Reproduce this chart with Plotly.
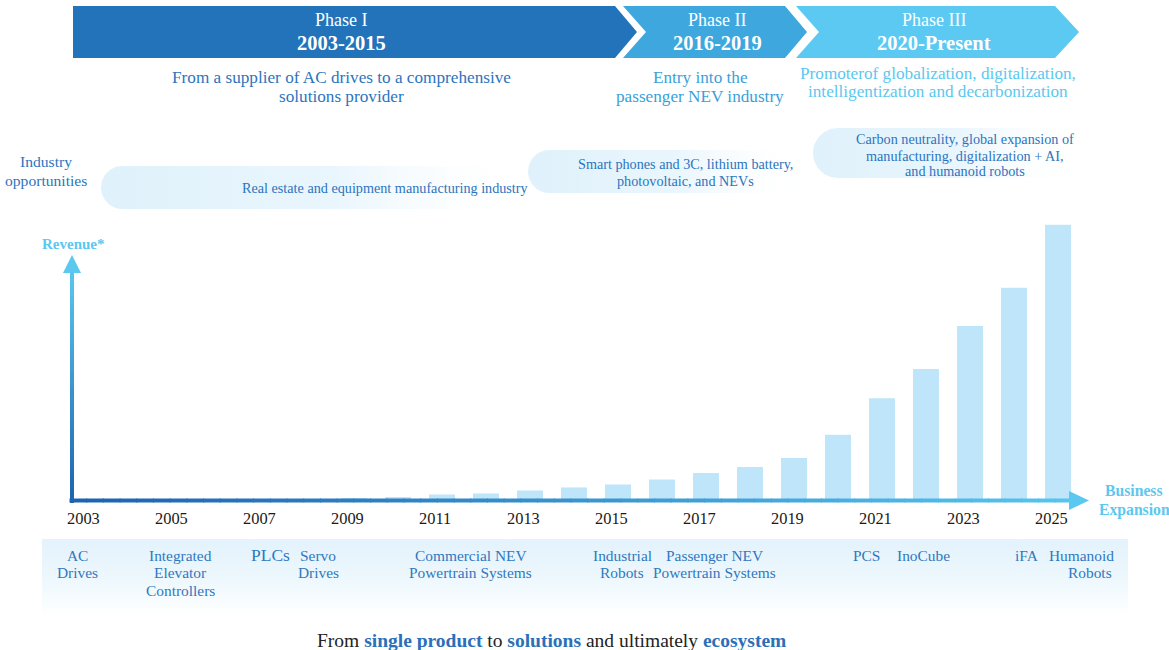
import numpy as np
import plotly.graph_objects as go

# ---------------- data ----------------
years = list(range(2003, 2026))
revenue = [0.02, 0.04, 0.06, 0.08, 0.10, 0.13, 0.27, 0.52, 0.96, 1.14, 1.66, 2.19,
           2.71, 3.58, 4.72, 5.77, 7.34, 11.4, 17.8, 22.9, 30.4, 37.1, 48.1]
tick_years = [2003, 2005, 2007, 2009, 2011, 2013, 2015, 2017, 2019, 2021, 2023, 2025]
tick_labels = [str(y) for y in tick_years]

phase_titles = ["Phase I", "Phase II", "Phase III"]
phase_periods = ["2003-2015", "2016-2019", "2020-Present"]

# ---------------- layout constants ----------------
W, H = 1169, 650
LAST_YEAR_PX = 1058
PX_PER_YEAR = 44
PX_PER_UNIT = 5.72
BASE_PX = 500
FONT = "Liberation Serif"

xr = [2025 - LAST_YEAR_PX / PX_PER_YEAR, 2025 + (W - LAST_YEAR_PX) / PX_PER_YEAR]
yr = [-(H - BASE_PX) / PX_PER_UNIT, BASE_PX / PX_PER_UNIT]

fig = go.Figure()

# bars
fig.add_trace(go.Bar(x=years, y=revenue, width=0.59,
                     marker=dict(color="#bee5f9", line=dict(width=0)),
                     hoverinfo="skip", showlegend=False))


# ---------------- decorations (pixel axes x2/y2) ----------------
def band(x0, x1, y0, y1, c0):
    r = (y1 - y0) / 2
    cx, cy = x0 + r, y0 + r
    t = np.linspace(-np.pi / 2, np.pi / 2, 40)
    xs = list(cx - r * np.cos(t)) + [x1, x1, cx]
    ys = list(cy + r * np.sin(t)) + [y1, y0, y0]
    fig.add_trace(go.Scatter(
        x=xs, y=ys, xaxis="x2", yaxis="y2", mode="lines", fill="toself",
        line=dict(width=0, color="rgba(0,0,0,0)"),
        fillgradient=dict(type="horizontal",
                          colorscale=[[0, c0], [0.55, "#eaf6fd"], [1, "rgba(255,255,255,0)"]]),
        hoverinfo="skip", showlegend=False))


band(101, 532, 166, 209, "#dff1fb")
band(528, 802, 150, 193, "#dff1fb")
band(813, 1082, 128, 178, "#dff1fb")

# bottom product band
fig.add_trace(go.Scatter(
    x=[42, 1128, 1128, 42, 42], y=[539, 539, 616, 616, 539], xaxis="x2", yaxis="y2",
    mode="lines", fill="toself", line=dict(width=0, color="rgba(0,0,0,0)"),
    fillgradient=dict(type="vertical", start=539, stop=616,
                      colorscale=[[0, "#e3f2fc"], [0.55, "#eef8fd"], [1, "#ffffff"]]),
    hoverinfo="skip", showlegend=False))

shapes = []
# chevrons
chev = [
    ("M73,6 L615,6 L637,32 L615,58 L73,58 Z", "#2373bb"),
    ("M623,6 L785,6 L807,32 L785,58 L623,58 L646,32 Z", "#3ea7de"),
    ("M796,6 L1055,6 L1079,32 L1055,58 L796,58 L819,32 Z", "#5bc9f1"),
]
for p, c in chev:
    shapes.append(dict(type="path", path=p, xref="x2", yref="y2",
                       fillcolor=c, line=dict(width=0), layer="above"))


def lerp(c0, c1, f):
    a = [int(c0[i:i + 2], 16) for i in (1, 3, 5)]
    b = [int(c1[i:i + 2], 16) for i in (1, 3, 5)]
    return "rgb(%d,%d,%d)" % tuple(round(a[k] + (b[k] - a[k]) * f) for k in range(3))


N = 60
# x axis gradient line
xa0, xa1 = 70, 1072
for i in range(N):
    f0, f1 = i / N, (i + 1) / N
    shapes.append(dict(type="line", xref="x2", yref="y2",
                       x0=xa0 + (xa1 - xa0) * f0 - 0.5, x1=xa0 + (xa1 - xa0) * f1 + 0.5,
                       y0=500.5, y1=500.5, layer="above",
                       line=dict(color=lerp("#1d62ad", "#57c4ef", (f0 + f1) / 2), width=4)))
# y axis gradient line
ya0, ya1 = 502.5, 268
for i in range(N):
    f0, f1 = i / N, (i + 1) / N
    shapes.append(dict(type="line", xref="x2", yref="y2",
                       x0=72, x1=72,
                       y0=ya0 + (ya1 - ya0) * f0 + 0.5, y1=ya0 + (ya1 - ya0) * f1 - 0.5,
                       layer="above",
                       line=dict(color=lerp("#1d62ad", "#5bc8f0", (f0 + f1) / 2), width=4)))
# arrow heads
shapes.append(dict(type="path", path="M72,255 L63,273 L81,273 Z", xref="x2", yref="y2",
                   fillcolor="#5bc8f0", line=dict(width=0), layer="above"))
shapes.append(dict(type="path", path="M1089,500.5 L1069,491 L1069,510 Z", xref="x2", yref="y2",
                   fillcolor="#5bc8f0", line=dict(width=0), layer="above"))

# ---------------- texts ----------------
ann = []


def txt(x, y, s, size, color, xanchor="center"):
    ann.append(dict(x=x, y=y, xref="x2", yref="y2", text=s, showarrow=False,
                    xanchor=xanchor, yanchor="middle",
                    font=dict(family=FONT, size=size, color=color)))


WHITE = "#ffffff"
DB = "#2b74bd"
MB = "#3a9fd9"
LB = "#5bc8f0"

phase_x = [341, 717, 934]
for px_, t, p in zip(phase_x, phase_titles, phase_periods):
    txt(px_, 20, t, 18, WHITE)
    txt(px_, 43, "<b>%s</b>" % p, 20.5, WHITE)

txt(341, 77, "From a supplier of AC drives to a comprehensive", 17.2, DB)
txt(341, 96, "solutions provider", 17.2, DB)
txt(700, 77, "Entry into the", 17.2, MB)
txt(700, 96, "passenger NEV industry", 17.2, MB)
txt(938, 73, "Promoterof globalization, digitalization,", 17.2, LB)
txt(938, 91, "intelligentization and decarbonization", 17.2, LB)

txt(46, 161, "Industry", 15.6, DB)
txt(46, 180, "opportunities", 15.6, DB)
txt(385, 188, "Real estate and equipment manufacturing industry", 14.2, DB)
txt(685, 164, "Smart phones and 3C, lithium battery,", 14.2, DB)
txt(685, 181, "photovoltaic, and NEVs", 14.2, DB)
txt(965, 139, "Carbon neutrality, global expansion of", 14.2, DB)
txt(965, 156, "manufacturing, digitalization + AI,", 14.2, DB)
txt(965, 171, "and humanoid robots", 14.2, DB)

txt(73, 244, "<b>Revenue*</b>", 15, LB)
txt(1134, 490, "<b>Business</b>", 15.7, LB)
txt(1134, 510, "<b>Expansion</b>", 15.7, LB)

# year tick labels (positioned on the year axis)
for yv, lab in zip(tick_years, tick_labels):
    ann.append(dict(x=yv, y=518, xref="x", yref="y2", text=lab, showarrow=False,
                    xshift=-7, xanchor="center", yanchor="middle",
                    font=dict(family=FONT, size=16.4, color="#1a1a1a")))

PB = "#2f78c0"
products = [
    (77, 555, "AC"), (77, 572, "Drives"),
    (180, 555, "Integrated"), (180, 572, "Elevator"), (180, 590, "Controllers"),
    (318, 555, "Servo"), (318, 572, "Drives"),
    (471, 555, "Commercial NEV"), (470, 572, "Powertrain Systems"),
    (622, 555, "Industrial"), (622, 572, "Robots"),
    (714, 555, "Passenger NEV"), (714, 572, "Powertrain Systems"),
    (866, 555, "PCS"), (923, 555, "InoCube"),
    (1026, 555, "iFA"), (1081, 555, "Humanoid"), (1090, 572, "Robots"),
]
for x, y, s in products:
    txt(x, y, s, 15.4, PB)
txt(270, 555, "PLCs", 17.5, PB)

txt(551, 640,
    "From <b><span style='color:#2a70b8'>single product</span></b> to "
    "<b><span style='color:#2a70b8'>solutions</span></b> and ultimately "
    "<b><span style='color:#2a70b8'>ecosystem</span></b>", 19.5, "#222222")

fig.update_layout(
    width=W, height=H, autosize=False,
    margin=dict(l=0, r=0, t=0, b=0, pad=0),
    paper_bgcolor="white", plot_bgcolor="rgba(0,0,0,0)",
    showlegend=False,
    xaxis=dict(range=xr, domain=[0, 1], visible=False, fixedrange=True),
    yaxis=dict(range=yr, domain=[0, 1], visible=False, fixedrange=True),
    xaxis2=dict(range=[0, W], overlaying="x", anchor="y2", visible=False, fixedrange=True),
    yaxis2=dict(range=[H, 0], overlaying="y", anchor="x2", visible=False, fixedrange=True),
    shapes=shapes, annotations=ann,
)

fig.write_html("out.html", config={"displayModeBar": False})
